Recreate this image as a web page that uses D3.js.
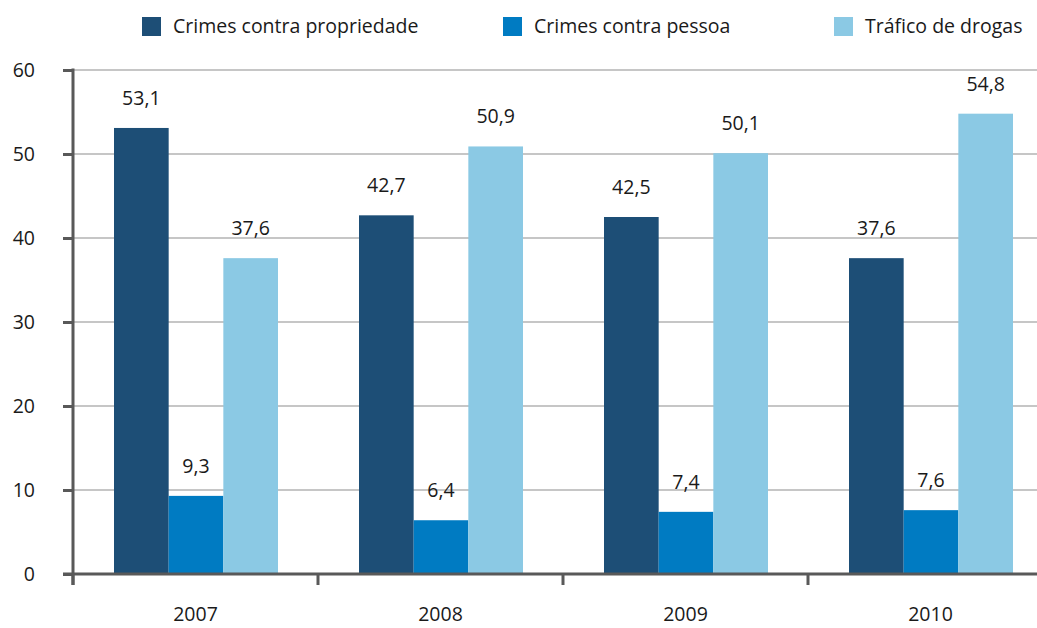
<!DOCTYPE html>
<html>
<head>
<meta charset="utf-8">
<script src="https://cdn.jsdelivr.net/npm/d3@7"></script>
<style>
  body { margin: 0; background: #fff; }
  svg text { font-family: "Open Sans", sans-serif; fill: #1a1a1a; }
</style>
</head>
<body>
<svg id="chart" width="1037" height="628"></svg>
<script>
var years = ['2007', '2008', '2009', '2010'];
var seriesNames = ['Crimes contra propriedade', 'Crimes contra pessoa', 'Tráfico de drogas'];
var propriedade = [53.1, 42.7, 42.5, 37.6];
var pessoa = [9.3, 6.4, 7.4, 7.6];
var trafico = [37.6, 50.9, 50.1, 54.8];
var yTicks = [0, 10, 20, 30, 40, 50, 60];
var colors = ['#1d4e76', '#007bc2', '#8bc9e4'];

var seriesValues = [propriedade, pessoa, trafico];

var svg = d3.select('#chart');
var mLeft = 73, mRight = 1053, mTop = 70, mBottom = 574;
var fs = 19.5;

var x = d3.scaleBand().domain(years).range([mLeft, mRight]).paddingInner(0).paddingOuter(0);
var inner = d3.scaleBand().domain(d3.range(3)).range([41, x.bandwidth() - 40]).padding(0);
var y = d3.scaleLinear().domain([0, 60]).range([mBottom, mTop]);

// gridlines
svg.append('g').selectAll('line').data(yTicks.filter(function(d){ return d > 0; }))
  .join('line')
  .attr('x1', mLeft).attr('x2', 1037)
  .attr('y1', function(d){ return y(d); }).attr('y2', function(d){ return y(d); })
  .attr('stroke', '#c6c6c6').attr('stroke-width', 2);

// bars
var groups = svg.append('g').selectAll('g').data(years).join('g')
  .attr('transform', function(d){ return 'translate(' + x(d) + ',0)'; });

groups.each(function(yr, i) {
  var g = d3.select(this);
  seriesValues.forEach(function(vals, s) {
    var v = vals[i];
    g.append('rect')
      .attr('x', inner(s)).attr('width', inner.bandwidth())
      .attr('y', y(v)).attr('height', y(0) - y(v))
      .attr('fill', colors[s]);
    g.append('text')
      .attr('x', inner(s) + inner.bandwidth() / 2)
      .attr('y', y(v) - 23)
      .attr('text-anchor', 'middle')
      .attr('font-size', fs)
      .text(d3.format('.1f')(v).replace('.', ','));
  });
});

// y axis
var yAxis = d3.axisLeft(y).tickValues(yTicks).tickSize(10).tickPadding(28);
var ya = svg.append('g').attr('transform', 'translate(' + mLeft + ',0)').call(yAxis);
ya.select('.domain').remove();
ya.selectAll('.tick line').attr('stroke', '#595959').attr('stroke-width', 3);
ya.selectAll('.tick text').attr('font-size', fs).attr('fill', '#1a1a1a').attr('font-family', '"Open Sans", sans-serif');
svg.append('line').attr('x1', mLeft).attr('x2', mLeft).attr('y1', mTop - 1.5).attr('y2', mBottom + 11)
  .attr('stroke', '#595959').attr('stroke-width', 3);

// x axis
svg.append('line').attr('x1', mLeft - 10).attr('x2', 1037).attr('y1', mBottom).attr('y2', mBottom)
  .attr('stroke', '#595959').attr('stroke-width', 3);
var bounds = years.map(function(d){ return x(d); });
svg.append('g').selectAll('line').data(bounds).join('line')
  .attr('x1', function(d){ return d; }).attr('x2', function(d){ return d; })
  .attr('y1', mBottom).attr('y2', mBottom + 11)
  .attr('stroke', '#595959').attr('stroke-width', 3);
svg.append('g').selectAll('text').data(years).join('text')
  .attr('x', function(d){ return x(d) + x.bandwidth() / 2; })
  .attr('y', 621)
  .attr('text-anchor', 'middle')
  .attr('font-size', fs)
  .text(function(d){ return d; });

// legend
var legendX = [142, 503, 834];
var legend = svg.append('g').selectAll('g').data(seriesNames).join('g')
  .attr('transform', function(d, i){ return 'translate(' + legendX[i] + ',17)'; });
legend.append('rect').attr('width', 19).attr('height', 19).attr('fill', function(d, i){ return colors[i]; });
legend.append('text').attr('x', 31).attr('y', 16).attr('font-size', fs).text(function(d){ return d; });
</script>
</body>
</html>
